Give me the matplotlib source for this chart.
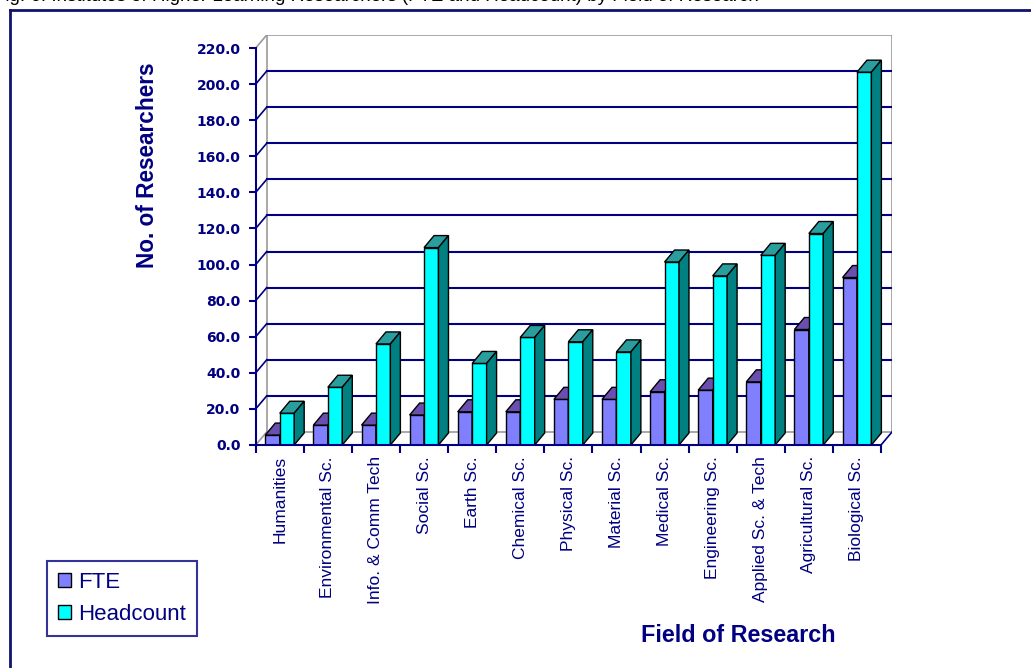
import matplotlib
matplotlib.use("Agg")
import matplotlib.pyplot as plt
from matplotlib.patches import Polygon, Patch
from matplotlib.lines import Line2D

# Researchers by field (FTE and headcount)
fields = ["Humanities", "Environmental Sc.", "Info. & Comm Tech", "Social Sc.",
          "Earth Sc.", "Chemical Sc.", "Physical Sc.", "Material Sc.",
          "Medical Sc.", "Engineering Sc.", "Applied Sc. & Tech",
          "Agricultural Sc.", "Biological Sc."]
fte = [5.5, 11.0, 11.0, 16.6, 18.4, 18.4, 25.3, 25.3, 29.5, 30.4, 35.0, 64.0, 92.8]
headcount = [17.6, 32.0, 56.0, 109.4, 45.2, 59.6, 57.2, 51.6, 101.4, 93.7,
             105.1, 117.2, 206.6]
y_ticks = [0, 20, 40, 60, 80, 100, 120, 140, 160, 180, 200, 220]

NAVY = "#000080"
GREY = "#9a9a9a"
W, H, DPI = 1031, 668, 100

fig = plt.figure(figsize=(W / DPI, H / DPI), dpi=DPI)
fig.patch.set_facecolor("white")

# plot area in pixels
px_left, px_base, px_top = 255.7, 445.0, 35.0
px_per_cat = 48.1
px_per_unit = (445.0 - 48.0) / 220.0
wall_dx_px, wall_dy_px = 11.0, 13.0
bar_dx_px, bar_dy_px = 10.0, 12.0

n = len(fields)
xmax = n + wall_dx_px / px_per_cat
ymax = (px_base - px_top) / px_per_unit
ax_w = xmax * px_per_cat
ax_h = px_base - px_top
ax = fig.add_axes([px_left / W, (H - px_base) / H, ax_w / W, ax_h / H])
ax.set_xlim(0, xmax)
ax.set_ylim(0, ymax)
ax.patch.set_visible(False)

wdx = wall_dx_px / px_per_cat
wdy = wall_dy_px / px_per_unit
bdx = bar_dx_px / px_per_cat
bdy = bar_dy_px / px_per_unit

# walls and floor
top_v = y_ticks[-1]
ax.plot([wdx, wdx], [wdy, top_v + wdy], color=GREY, lw=1.2, zorder=1)
ax.plot([n + wdx, n + wdx], [wdy, top_v + wdy], color=GREY, lw=1.2, zorder=1)
ax.plot([wdx, n + wdx], [top_v + wdy, top_v + wdy], color=GREY, lw=1.2, zorder=1)
ax.plot([0, wdx], [top_v, top_v + wdy], color=GREY, lw=1.2, zorder=1)
ax.plot([wdx, n + wdx], [wdy, wdy], color=GREY, lw=1.2, zorder=1)
ax.plot([0, wdx], [0, wdy], color=GREY, lw=1.2, zorder=1)
ax.plot([n, n + wdx], [0, wdy], color=NAVY, lw=1.2, zorder=1)
for v in y_ticks[1:-1]:
    ax.plot([wdx, n + wdx], [v + wdy, v + wdy], color=NAVY, lw=1.5, zorder=2)
    ax.plot([0, wdx], [v, v + wdy], color=NAVY, lw=1.2, zorder=2)

# 3-D style clustered columns
bw = 0.3
centers = [i + 0.5 for i in range(n)]
series = [
    (fte, [c - bw for c in centers], "#8080ff", "#6a4fb0", "#40407f", "FTE"),
    (headcount, centers, "#00ffff", "#2a9e9e", "#008080", "Headcount"),
]
for s_idx, (vals, lefts, c_front, c_top, c_side, label) in enumerate(series):
    bars = ax.bar(lefts, vals, width=bw, align="edge", color=c_front,
                  edgecolor="black", linewidth=1.0)
    for i, (rect, v, x0) in enumerate(zip(bars, vals, lefts)):
        z = 10 + i * 10 + s_idx * 5
        rect.set_zorder(z)
        top = Polygon([(x0, v), (x0 + bw, v), (x0 + bw + bdx, v + bdy),
                       (x0 + bdx, v + bdy)], closed=True, facecolor=c_top,
                      edgecolor="black", linewidth=1.0, zorder=z + 1)
        side = Polygon([(x0 + bw, 0), (x0 + bw + bdx, bdy),
                        (x0 + bw + bdx, v + bdy), (x0 + bw, v)], closed=True,
                       facecolor=c_side, edgecolor="black", linewidth=1.0,
                       zorder=z + 2)
        ax.add_patch(top)
        ax.add_patch(side)

# axes lines, ticks, labels
for s in ("top", "right"):
    ax.spines[s].set_visible(False)
ax.spines["left"].set_bounds(0, top_v)
ax.spines["bottom"].set_bounds(0, n)
for s in ("left", "bottom"):
    ax.spines[s].set_color(NAVY)
    ax.spines[s].set_linewidth(1.5)
    ax.spines[s].set_zorder(500)

ax.set_yticks(y_ticks)
ax.set_yticklabels([f"{v:.1f}" for v in y_ticks], fontweight="bold",
                   family="DejaVu Sans")
ax.tick_params(axis="y", direction="out", length=5, width=1.5, color=NAVY,
               labelcolor=NAVY, labelsize=10, pad=6)

ax.set_xticks(list(range(n + 1)), minor=True)
ax.set_xticks(centers)
ax.set_xticklabels(fields, rotation=90, va="top", ha="center",
                   family=["Liberation Sans Narrow", "Liberation Sans"])
ax.tick_params(axis="x", which="major", length=0, pad=8, labelcolor=NAVY,
               labelsize=12.5)
ax.tick_params(axis="x", which="minor", direction="out", length=6, width=1.5,
               color=NAVY)

fig.text(147 / W, 1 - 165 / H, "No. of Researchers", rotation=90,
         ha="center", va="center", color=NAVY, fontsize=16.3,
         fontweight="bold", family="Liberation Sans")
fig.text(738 / W, 1 - 635 / H, "Field of Research", ha="center",
         va="center", color=NAVY, fontsize=16.8, fontweight="bold",
         family="Liberation Sans")

# heading (runs off the top edge)
fig.text(-6 / W, 1 - 1 / H,
         "Fig. 6: Institutes of Higher Learning Researchers (FTE and Headcount) by Field of Research",
         ha="left", va="baseline", color="black", fontsize=13.5,
         family="Liberation Sans")

# outer frame
fig.add_artist(Line2D([10 / W, 10 / W], [-0.1, 1 - 10 / H],
                      transform=fig.transFigure, color="#12126e", lw=2.0))
fig.add_artist(Line2D([10 / W, 1.1], [1 - 10 / H, 1 - 10 / H],
                      transform=fig.transFigure, color="#12126e", lw=2.0))

# legend
handles = [Patch(facecolor="#8080ff", edgecolor="black", label="FTE"),
           Patch(facecolor="#00ffff", edgecolor="black", label="Headcount")]
leg = fig.legend(handles=handles, loc="upper left",
                 bbox_to_anchor=(47 / W, 1 - 561 / H), frameon=True,
                 fancybox=False, edgecolor=NAVY, handlelength=0.6,
                 handleheight=0.6, handletextpad=0.3, labelspacing=0.5,
                 borderpad=0.5, borderaxespad=0,
                 prop={"family": "Liberation Sans", "size": 16})
leg.get_frame().set_linewidth(1.5)
for t in leg.get_texts():
    t.set_color(NAVY)

fig.savefig("out.png", dpi=DPI)
